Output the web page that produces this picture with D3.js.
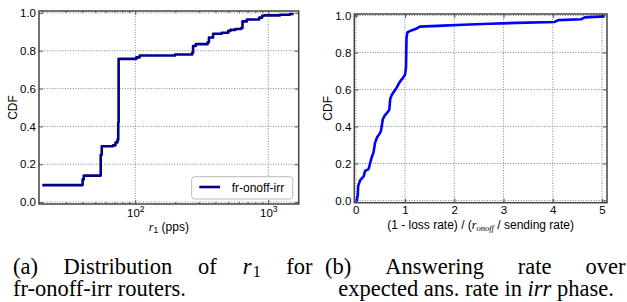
<!DOCTYPE html>
<html lang="en">
<head>
<meta charset="UTF-8" />
<title>CDF panels</title>
<style>
  body { margin: 0; padding: 0; background: #fff; }
  svg { display: block; }
  .tick text { font-family: "Liberation Sans", Arial, sans-serif; font-size: 11.5px; fill: #000; }
  .lbl { font-family: "Liberation Sans", Arial, sans-serif; font-size: 12px; fill: #000; }
  .cap { font-family: "Liberation Serif", "Times New Roman", serif; font-size: 22.5px; fill: #000; }
</style>
</head>
<body>
<svg id="chart" width="627" height="302"></svg>
<script src="https://d3js.org/d3.v7.min.js"></script>
<script>
  // (a) r1 distribution, step CDF (x in pps, cdf after step)
  const r1Rate = [20, 40.2, 41, 55, 56, 68, 71, 73.5, 74.5, 75, 102, 108, 199, 268, 272, 285, 350, 358, 385,
                  446, 500, 520, 565, 625, 640, 690, 855, 900, 930, 1225, 1455, 1550];
  const r1Cdf  = [0.09, 0.12, 0.14, 0.25, 0.295, 0.30, 0.315, 0.33, 0.42, 0.757, 0.765, 0.775, 0.78, 0.79, 0.825, 0.835, 0.845, 0.87, 0.89,
                  0.895, 0.905, 0.91, 0.915, 0.92, 0.955, 0.965, 0.975, 0.985, 0.987, 0.99, 0.994, 0.994];

  // (b) answering rate over expected rate
  const ansRatio = [0.01, 0.02, 0.04, 0.05, 0.09, 0.16, 0.19, 0.26, 0.29, 0.32, 0.36, 0.39, 0.43, 0.48, 0.51, 0.55, 0.59,
                    0.64, 0.68, 0.70, 0.73, 0.78, 0.83, 0.89, 0.95, 1.0, 1.02, 1.03, 1.05, 1.14, 1.24, 1.30, 1.78,
                    2.18, 2.72, 3.26, 4.04, 4.11, 4.58, 4.65, 5.05];
  const ansCdf   = [0.0, 0.0, 0.03, 0.08, 0.11, 0.13, 0.16, 0.17, 0.20, 0.23, 0.26, 0.31, 0.34, 0.36, 0.375, 0.44, 0.46,
                    0.475, 0.49, 0.55, 0.57, 0.59, 0.61, 0.64, 0.66, 0.68, 0.72, 0.88, 0.91, 0.92, 0.93, 0.94, 0.945,
                    0.95, 0.955, 0.96, 0.965, 0.975, 0.98, 0.99, 0.995];

  const yTicks = [0, 0.2, 0.4, 0.6, 0.8, 1.0];
  const logMajor = [100, 1000];
  const logMinor = [20, 30, 40, 50, 60, 70, 80, 90, 200, 300, 400, 500, 600, 700, 800, 900];
  const linTicks = [0, 1, 2, 3, 4, 5];
  const legendLabel = "fr-onoff-irr";

  const svg = d3.select("#chart");
  svg.append("rect").attr("width", 627).attr("height", 302).attr("fill", "#fff");

  const fmt = d3.format(".1f");

  function panel(x, y, box, opts) {
    const g = svg.append("g");
    // grid
    g.selectAll(".gx").data(opts.gridX).enter().append("line")
      .attr("x1", d => x(d)).attr("x2", d => x(d))
      .attr("y1", box.y0).attr("y2", box.y1)
      .attr("stroke", "#666").attr("stroke-width", 0.8).attr("stroke-dasharray", "1,1.6");
    g.selectAll(".gy").data(yTicks).enter().append("line")
      .attr("x1", box.x0).attr("x2", box.x1)
      .attr("y1", d => y(d)).attr("y2", d => y(d))
      .attr("stroke", "#666").attr("stroke-width", 0.8).attr("stroke-dasharray", "1,1.6");

    // inward ticks on all four sides
    const bottom = d3.axisBottom(x).tickValues(opts.majorX).tickSize(-4).tickPadding(3);
    if (opts.xFormat) bottom.tickFormat(opts.xFormat);
    const ax = g.append("g").attr("transform", `translate(0,${box.y1})`).call(bottom);
    g.append("g").attr("transform", `translate(0,${box.y0})`)
      .call(d3.axisTop(x).tickValues(opts.majorX).tickSize(-4).tickFormat(""));
    if (opts.minorX) {
      g.append("g").attr("transform", `translate(0,${box.y1})`)
        .call(d3.axisBottom(x).tickValues(opts.minorX).tickSize(-2).tickFormat(""));
      g.append("g").attr("transform", `translate(0,${box.y0})`)
        .call(d3.axisTop(x).tickValues(opts.minorX).tickSize(-2).tickFormat(""));
    }
    g.append("g").attr("transform", `translate(${box.x0},0)`)
      .call(d3.axisLeft(y).tickValues(yTicks).tickSize(-4).tickPadding(3).tickFormat(fmt));
    g.append("g").attr("transform", `translate(${box.x1},0)`)
      .call(d3.axisRight(y).tickValues(yTicks).tickSize(-4).tickFormat(""));
    g.selectAll(".domain").remove();
    g.selectAll(".tick line").attr("stroke", "#333").attr("stroke-width", 0.8);

    // data line
    const line = d3.line().x(d => x(d[0])).y(d => y(d[1])).curve(opts.curve);
    g.append("path").datum(d3.zip(opts.xs, opts.ys))
      .attr("d", line).attr("fill", "none")
      .attr("stroke", opts.color).attr("stroke-width", 2.6)
      .attr("stroke-linejoin", "round");

    // frame
    g.append("rect").attr("x", box.x0).attr("y", box.y0)
      .attr("width", box.x1 - box.x0).attr("height", box.y1 - box.y0)
      .attr("fill", "none").attr("stroke", "#444").attr("stroke-width", 1.5);

    // y label
    g.append("text").attr("class", "lbl").attr("font-size", "12.5px")
      .attr("transform", `translate(${box.x0 - 22.5},${(box.y0 + box.y1) / 2}) rotate(-90)`)
      .attr("text-anchor", "middle").text("CDF");
    return { g, ax };
  }

  // ---------- panel (a)
  const boxA = { x0: 39, x1: 298.7, y0: 11, y1: 204 };
  const xA = d3.scaleLog().domain([18.9, 1693]).range([boxA.x0, boxA.x1]);
  const yA = d3.scaleLinear().domain([-0.01, 1.01]).range([boxA.y1, boxA.y0]);
  const pa = panel(xA, yA, boxA, {
    gridX: logMajor, majorX: logMajor, minorX: logMinor, xFormat: () => "",
    xs: r1Rate, ys: r1Cdf, color: "#000088", curve: d3.curveStepAfter
  });
  // 10^k labels
  pa.ax.selectAll(".tick").each(function (d) {
    const t = d3.select(this).append("text").attr("y", 12.5).attr("text-anchor", "middle")
      .attr("fill", "#000").attr("dy", 0);
    t.append("tspan").text("10");
    t.append("tspan").attr("dy", -5).attr("font-size", "8.5px").text(Math.round(Math.log10(d)));
  });
  const xla = svg.append("text").attr("class", "lbl").attr("x", 168.9).attr("y", 230.5)
    .attr("text-anchor", "middle");
  xla.append("tspan").attr("font-family", "Liberation Serif, serif").attr("font-style", "italic").text("r");
  xla.append("tspan").attr("font-size", "8.5px").attr("dy", 2).text("1");
  xla.append("tspan").attr("dy", -2).text("  (pps)");

  // legend
  const lg = svg.append("g");
  lg.append("rect").attr("x", 191.7).attr("y", 176.7).attr("width", 101).attr("height", 22.3)
    .attr("rx", 3).attr("fill", "#fff").attr("stroke", "#bbb").attr("stroke-width", 1);
  lg.append("line").attr("x1", 199.3).attr("x2", 220).attr("y1", 187).attr("y2", 187)
    .attr("stroke", "#000088").attr("stroke-width", 2.6);
  lg.append("text").attr("class", "lbl").attr("x", 231.7).attr("y", 191.5)
    .attr("font-size", "13px").text(legendLabel);

  // ---------- panel (b)
  const boxB = { x0: 354.3, x1: 607, y0: 14, y1: 202.7 };
  const xB = d3.scaleLinear().domain([-0.03, 5.1]).range([boxB.x0, boxB.x1]);
  const yB = d3.scaleLinear().domain([-0.012, 1.008]).range([boxB.y1, boxB.y0]);
  panel(xB, yB, boxB, {
    gridX: linTicks, majorX: linTicks, xFormat: d3.format("d"),
    xs: ansRatio, ys: ansCdf, color: "#0000ff", curve: d3.curveLinear
  });
  const xlb = svg.append("text").attr("class", "lbl").attr("x", 480.6).attr("y", 229)
    .attr("text-anchor", "middle");
  xlb.append("tspan").text("(1 - loss rate) / (");
  xlb.append("tspan").attr("font-family", "Liberation Serif, serif").attr("font-style", "italic").text("r");
  xlb.append("tspan").attr("font-family", "Liberation Serif, serif").attr("font-style", "italic")
    .attr("font-size", "8.5px").attr("dy", 2).text("onoff");
  xlb.append("tspan").attr("dy", -2).text(" / sending rate)");

  // ---------- captions
  const capA1 = [[["(a)"]], [["Distribution"]], [["of"]], [["r", "i"], ["1", "sub"]], [["for"]]];
  const capB1 = [[["(b)"]], [["Answering"]], [["rate"]], [["over"]]];

  function word(segs, x, y) {
    const t = svg.append("text").attr("class", "cap").attr("x", x).attr("y", y);
    segs.forEach(s => {
      const sp = t.append("tspan").text(s[0]);
      if (s[1] === "i") sp.attr("font-style", "italic");
      if (s[1] === "sub") sp.attr("font-size", "16px").attr("dy", 3).attr("dx", 1);
    });
    return t;
  }
  function justify(words, x0, x1, y) {
    const els = words.map(w => word(w, 0, y));
    const widths = els.map(e => e.node().getBBox().width);
    const gap = (x1 - x0 - d3.sum(widths)) / (words.length - 1);
    let cx = x0;
    els.forEach((e, i) => { e.attr("x", cx); cx += widths[i] + gap; });
  }
  justify(capA1, 13, 313, 273.5);
  justify(capB1, 325, 626, 273.5);
  svg.append("text").attr("class", "cap").attr("x", 13).attr("y", 296).text("fr-onoff-irr routers.");
  const cb2 = svg.append("text").attr("class", "cap").attr("x", 476).attr("y", 296).attr("text-anchor", "middle");
  cb2.append("tspan").text("expected ans. rate in ");
  cb2.append("tspan").attr("font-style", "italic").text("irr");
  cb2.append("tspan").text(" phase.");
</script>
</body>
</html>
